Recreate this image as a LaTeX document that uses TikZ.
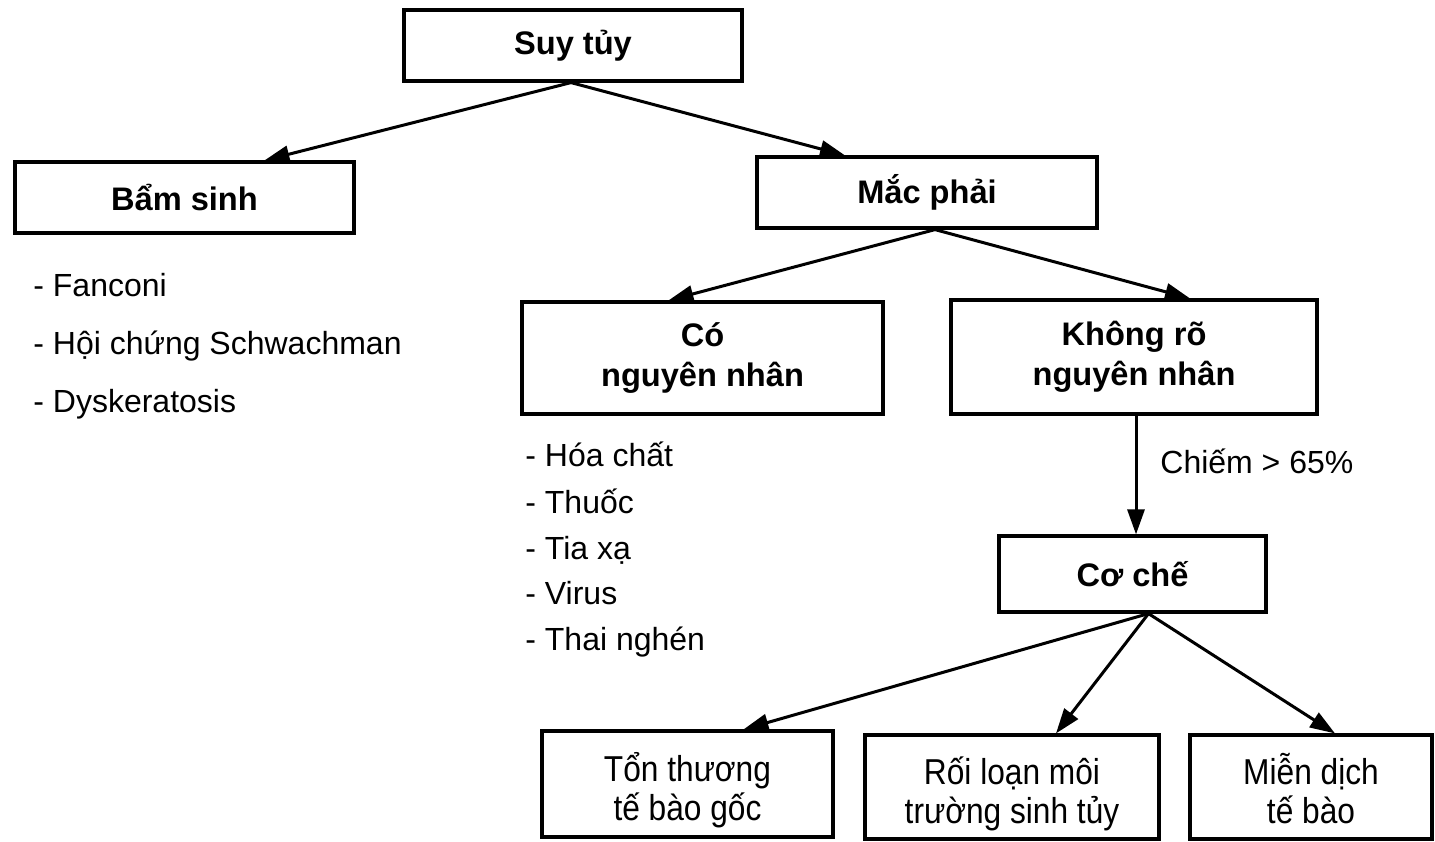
\documentclass[tikz,border=0pt]{standalone}
\usepackage{fontspec}
\setmainfont{Liberation Sans}
\newfontfamily\narrowfont[FakeStretch=0.88]{Liberation Sans}
\usetikzlibrary{arrows.meta,calc}
\newcommand\lowstrut[1][21pt]{\rule{0pt}{#1}}
\begin{document}
\begin{tikzpicture}[x=0.5pt,y=-0.5pt,
  box/.style={draw,line width=1.6pt,inner sep=0pt,align=center,
    font=\bfseries\fontsize{16.3}{20}\selectfont},
  lowbox/.style={draw,line width=1.6pt,inner sep=0pt,align=center,
    font=\narrowfont\fontsize{18}{19.5}\selectfont},
  item/.style={anchor=west,inner sep=0pt,text height=11.5pt,text depth=3.4pt,
    font=\fontsize{16}{19}\selectfont},
  conn/.style={line width=1.5pt,-{Triangle[length=12.5pt,width=8.5pt]}}]
\useasboundingbox (0,0) rectangle (1435,841);
\fill[white] (0,0) rectangle (1435,841);

\node[box,minimum width=169pt,minimum height=35.5pt] (suy) at (573,45.5) {Suy tủy};
\node[box,minimum width=169.5pt,minimum height=35.5pt] (bam) at (184.5,197.5) {Bẩm sinh};
\node[box,minimum width=170pt,minimum height=35.5pt] (mac) at (927,192.5) {Mắc phải};
\node[box,minimum width=180.5pt,minimum height=56pt] (co) at (702.5,358) {Có\\nguyên nhân};
\node[box,minimum width=183pt,minimum height=57pt] (khong) at (1134,357) {Không rõ\\nguyên nhân};
\node[box,minimum width=133.5pt,minimum height=38pt] (coche) at (1132.5,574) {Cơ chế};
\node[lowbox,minimum width=145.5pt,minimum height=53pt] (ton) at (687.5,784) {\lowstrut Tổn thương\\tế bào gốc};
\node[lowbox,minimum width=147pt,minimum height=52pt] (roi) at (1012,787) {\lowstrut Rối loạn môi\\trường sinh tủy};
\node[lowbox,minimum width=121pt,minimum height=52pt] (mien) at (1311,787) {\lowstrut[17pt]Miễn dịch\\tế bào};

\node[item] (b1) at (33,288) {- Fanconi};
\node[item] (b2) at (33,346) {- Hội chứng Schwachman};
\node[item] (b3) at (33,404) {- Dyskeratosis};

\node[item] (c1) at (525,458) {- Hóa chất};
\node[item] (c2) at (525,505) {- Thuốc};
\node[item] (c3) at (525,551) {- Tia xạ};
\node[item] (c4) at (525,596) {- Virus};
\node[item] (c5) at (525,642) {- Thai nghén};

\node[item] (pct) at (1160,465) {Chiếm > 65\%};

\draw[conn] ([xshift=-1pt]suy.south) -- ([xshift=40pt]bam.north);
\draw[conn] ([xshift=-1pt]suy.south) -- ([xshift=-41pt]mac.north);
\draw[conn] ([xshift=4pt]mac.south) -- ([xshift=-17pt]co.north);
\draw[conn] ([xshift=4pt]mac.south) -- ([xshift=28pt]khong.north);
\draw[conn] ([xshift=1pt]khong.south) -- ([xshift=1pt]khong.south |- coche.north);
\draw[conn] ([xshift=8pt]coche.south) -- ([xshift=28pt]ton.north);
\draw[conn] ([xshift=8pt]coche.south) -- ([xshift=22pt]roi.north);
\draw[conn] ([xshift=8pt]coche.south) -- ([xshift=12pt]mien.north);
\end{tikzpicture}
\end{document}
